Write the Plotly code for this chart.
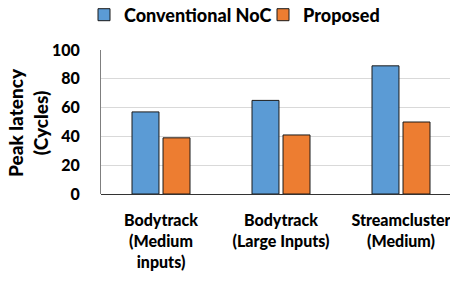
import plotly.graph_objects as go

categories = ["Bodytrack<br>(Medium<br>inputs)", "Bodytrack<br>(Large Inputs)", "Streamcluster<br>(Medium)"]
conventional = [57, 65, 89]
proposed = [39, 41, 50]
y_ticks = [0, 20, 40, 60, 80, 100]
y_title = "Peak latency<br>(Cycles)"

FONT = "Lato"
W = 900
# page has an 8px body margin, so the figure is drawn 8px smaller
FW, FH = 450, 276
T, B, L = 42, 90, 93
PH = FH - T - B
PW = FW - L

fig = go.Figure()
fig.add_trace(go.Bar(x=categories, y=conventional, name="Conventional NoC",
                     marker=dict(color="#5B9BD5", line=dict(color="#1a1a1a", width=1))))
fig.add_trace(go.Bar(x=categories, y=proposed, name="Proposed",
                     marker=dict(color="#ED7D31", line=dict(color="#1a1a1a", width=1))))

leg_y = 1 + (T - 7) / PH
fig.update_layout(
    width=FW, height=FH,
    margin=dict(l=L, r=0, t=T, b=B, autoexpand=False),
    paper_bgcolor="white", plot_bgcolor="white",
    barmode="group", bargap=0.483, bargroupgap=0.13,
    font=dict(family=FONT, size=16, color="black", weight=W),
    legend=dict(orientation="h", x=76 / FW, xanchor="left", xref="container",
                y=leg_y, yanchor="middle", yref="paper", traceorder="normal",
                font=dict(size=18, weight=W), itemwidth=30,
                entrywidth=134, entrywidthmode="pixels"),
    xaxis=dict(range=[-0.5, 2.475], showline=False, showgrid=False, ticks="",
               ticklabelstandoff=15, tickfont=dict(size=16, weight=W)),
    yaxis=dict(range=[0, 100], tickvals=y_ticks, showgrid=True, gridcolor="#D9D9D9",
               gridwidth=1, showline=True, linecolor="#7f7f7f", linewidth=1,
               zeroline=True, zerolinecolor="#333333", zerolinewidth=1,
               ticks="", ticklabelstandoff=17, tickfont=dict(size=16, weight=W)),
    annotations=[dict(text=y_title, xref="paper", yref="paper",
                      x=(28 - 8 - L) / PW, y=1 - (123 - 8 - T) / PH,
                      xanchor="center", yanchor="middle", textangle=-90,
                      showarrow=False, font=dict(size=19, weight=W))],
)

fig.write_html("out.html")
